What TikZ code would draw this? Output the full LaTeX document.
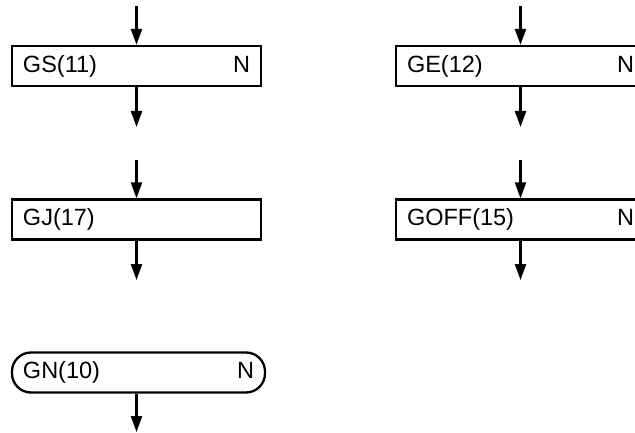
\documentclass[tikz,border=0pt]{standalone}
\usepackage{fontspec}
\setmainfont{Liberation Sans}
\usetikzlibrary{arrows.meta}
\begin{document}
\begin{tikzpicture}[x=1pt,y=-1pt,
  box/.style={draw,line width=2.3pt,minimum width=249pt,minimum height=40pt,
    inner xsep=11pt,inner ysep=0pt,text width=227pt,align=left,
    font=\fontsize{23.5}{27}\selectfont},
  term/.style={box,rounded corners=19pt,minimum width=253pt,text width=231pt},
  arr/.style={line width=2.3pt,-{Triangle[length=16pt,width=11pt]}}]
\clip (0,0) rectangle (635,433);
\node[box] (gs) at (136.5,66) {GS(11)\hfill N};
\node[box] (ge) at (520.5,66) {GE(12)\hfill N};
\node[box] (gj) at (136.5,219.5) {GJ(17)};
\node[box] (goff) at (520.5,219.5) {GOFF(15)\hfill N};
\node[term] (gn) at (138.5,372.5) {GN(10)\hfill N};
\coordinate (t1) at (136.5,6);
\coordinate (b1) at (136.5,127);
\coordinate (t2) at (520.5,6);
\coordinate (b2) at (520.5,127);
\coordinate (t3) at (136.5,160);
\coordinate (b3) at (136.5,280);
\coordinate (t4) at (520.5,160);
\coordinate (b4) at (520.5,280);
\coordinate (b5) at (136.5,432);
\draw[arr] (t1) -- (gs.north);
\draw[arr] (gs.south) -- (b1);
\draw[arr] (t2) -- (ge.north);
\draw[arr] (ge.south) -- (b2);
\draw[arr] (t3) -- (gj.north);
\draw[arr] (gj.south) -- (b3);
\draw[arr] (t4) -- (goff.north);
\draw[arr] (goff.south) -- (b4);
\draw[arr] (gn.south -| b5) -- (b5);
\end{tikzpicture}
\end{document}
